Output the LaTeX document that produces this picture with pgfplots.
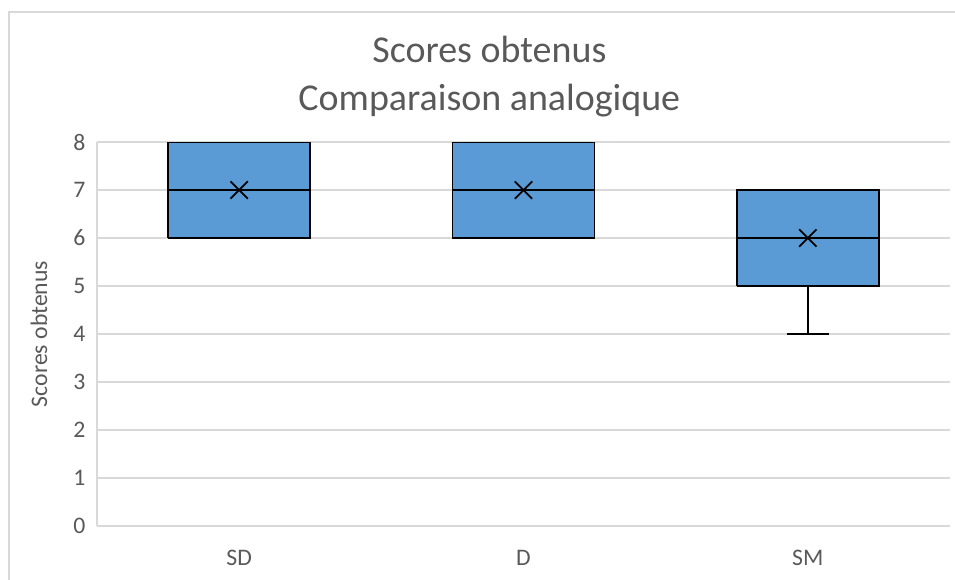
\documentclass[border=0pt]{standalone}
\usepackage{fontspec}
\setmainfont{Carlito}
\usepackage{pgfplots}
\pgfplotsset{compat=1.18}

\definecolor{boxblue}{HTML}{5B9BD5}
\definecolor{txtgray}{HTML}{595959}
\definecolor{gridgray}{HTML}{D9D9D9}

\pgfplotsset{
    box/.style={fill=boxblue, draw=black, line width=0.9pt, line join=miter, mark=none},
    whisk/.style={black, line width=0.9pt, mark=none},
}

\begin{document}
\begin{tikzpicture}
% page = 955x580 px, 1 px = 0.02 cm
\useasboundingbox (0,0) rectangle (19.1,11.6);
\draw[gridgray, line width=0.6pt] (0.18,0) -- (0.18,11.36) -- (19.1,11.36);

\begin{axis}[
    at={(1.94cm,1.08cm)},
    anchor=south west,
    scale only axis,
    width=17.06cm,
    height=7.68cm,
    xmin=-0.5, xmax=2.5,
    ymin=0, ymax=8,
    xtick={0,1,2},
    xticklabels={SD,D,SM},
    ytick={0,1,...,8},
    axis x line*=bottom,
    axis y line*=left,
    axis line style={gridgray, line width=0.8pt, -},
    ymajorgrids,
    grid style={gridgray, line width=0.8pt},
    major tick length=0pt,
    tick label style={font=\fontsize{13.5}{15}\selectfont, text=txtgray},
    /pgf/number format/assume math mode=true,
    xticklabel style={yshift=-10pt},
    yticklabel style={xshift=-3pt},
    ylabel={Scores obtenus},
    ylabel shift=8pt,
    ylabel style={font=\fontsize{13.5}{15}\selectfont, text=txtgray},
    title={Scores obtenus\\Comparaison analogique},
    title style={align=center, font=\fontsize{21.6}{27}\selectfont, text=txtgray,
                 at={(axis description cs:0.46,1.022)}, anchor=south},
]
% boxes: quartiles, box half-width 0.25
% SD: Q1=6, median=7, Q3=8
\addplot[box] coordinates {(-0.25,6) (0.25,6) (0.25,8) (-0.25,8) (-0.25,6)};
\addplot[whisk] coordinates {(-0.25,7) (0.25,7)};
% D: Q1=6, median=7, Q3=8
\addplot[box] coordinates {(0.75,6) (1.25,6) (1.25,8) (0.75,8) (0.75,6)};
\addplot[whisk] coordinates {(0.75,7) (1.25,7)};
% SM: Q1=5, median=6, Q3=7, min=4
\addplot[box] coordinates {(1.75,5) (2.25,5) (2.25,7) (1.75,7) (1.75,5)};
\addplot[whisk] coordinates {(1.75,6) (2.25,6)};
\addplot[whisk] coordinates {(2,5) (2,4)};
\addplot[whisk] coordinates {(1.925,4) (2.075,4)};
% means
\addplot[only marks, mark=x, mark size=7pt, black, line width=1pt]
    coordinates {(0,7) (1,7) (2,6)};
\end{axis}
\end{tikzpicture}
\end{document}
